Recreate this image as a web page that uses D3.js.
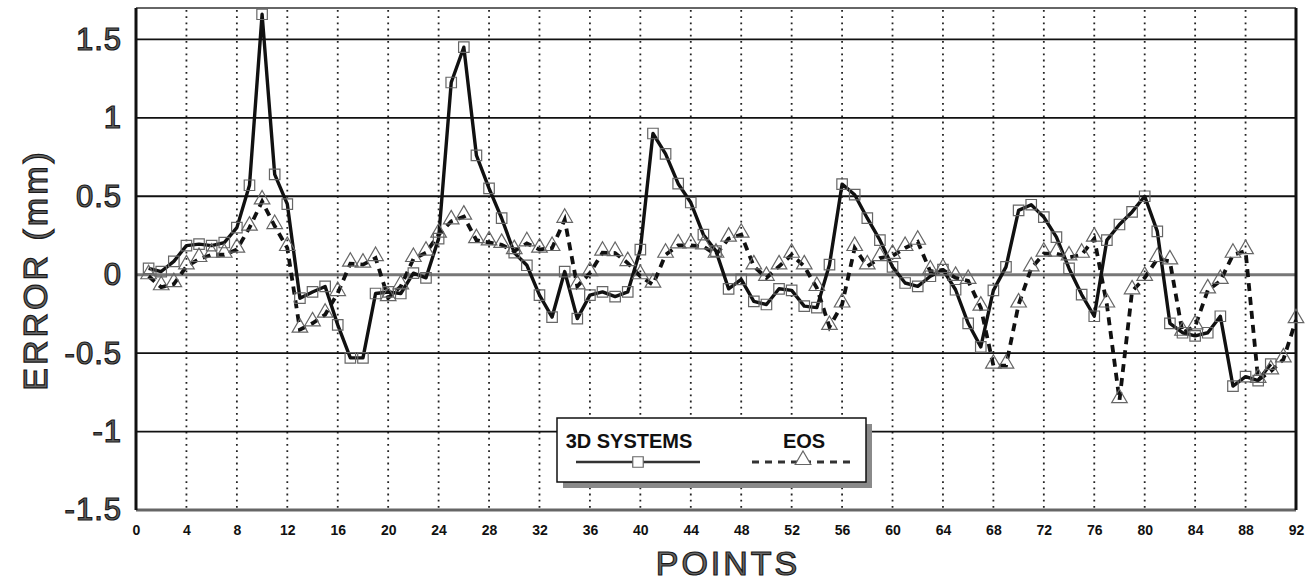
<!DOCTYPE html>
<html>
<head>
<meta charset="utf-8">
<script src="https://cdn.jsdelivr.net/npm/d3@7"></script>
<style>
  body { margin: 0; background: #fff; }
  svg { display: block; }
</style>
</head>
<body>
<div id="chart"></div>
<script>
// error values, point 1..n
const systems3D = [
  0.04, 0.02, 0.085, 0.185, 0.195, 0.185, 0.205, 0.30, 0.57, 1.66,
  0.64, 0.45, -0.15, -0.11, -0.075, -0.32, -0.53, -0.53, -0.12, -0.11,
  -0.12, 0.01, -0.02, 0.23, 1.225, 1.45, 0.76, 0.55, 0.36, 0.14,
  0.06, -0.13, -0.27, 0.02, -0.28, -0.13, -0.11, -0.14, -0.11, 0.16,
  0.90, 0.77, 0.58, 0.46, 0.255, 0.15, -0.09, -0.03, -0.17, -0.19,
  -0.09, -0.10, -0.20, -0.21, 0.064, 0.577, 0.51, 0.36, 0.22, 0.05,
  -0.053, -0.074, -0.01, 0.032, -0.096, -0.31, -0.46, -0.10, 0.05, 0.41,
  0.446, 0.367, 0.24, 0.04, -0.127, -0.265, 0.22, 0.32, 0.40, 0.50,
  0.276, -0.31, -0.37, -0.39, -0.37, -0.265, -0.71, -0.65, -0.675, -0.57
];
const eos = [
  -0.01, -0.08, -0.06, 0.053, 0.10, 0.127, 0.127, 0.16, 0.30, 0.467,
  0.31, 0.17, -0.35, -0.31, -0.255, -0.117, 0.07, 0.064, 0.106, -0.149,
  -0.074, 0.10, 0.14, 0.255, 0.34, 0.37, 0.22, 0.206, 0.19, 0.15,
  0.20, 0.16, 0.17, 0.35, -0.074, 0.01, 0.14, 0.138, 0.074, -0.01,
  -0.064, 0.127, 0.187, 0.187, 0.18, 0.127, 0.23, 0.255, 0.053, -0.02,
  0.053, 0.127, 0.053, -0.085, -0.333, -0.19, 0.17, 0.053, 0.106, 0.12,
  0.17, 0.21, 0.02, 0.03, -0.02, -0.04, -0.21, -0.58, -0.58, -0.19,
  0.04, 0.134, 0.134, 0.11, 0.127, 0.23, -0.19, -0.80, -0.106, -0.02,
  0.10, 0.085, -0.37, -0.33, -0.10, -0.04, 0.127, 0.15, -0.67, -0.616,
  -0.54, -0.29
];
const xTicks = [0, 4, 8, 12, 16, 20, 24, 28, 32, 36, 40, 44, 48, 52, 56, 60, 64, 68, 72, 76, 80, 84, 88, 92];
const yTicks = [-1.5, -1, -0.5, 0, 0.5, 1, 1.5];
const yTickLabels = ["-1.5", "-1", "-0.5", "0", "0.5", "1", "1.5"];
const seriesNames = ["3D SYSTEMS", "EOS"];

const width = 1309, height = 582;
const margin = { top: 8, right: 13, bottom: 72, left: 136 };
const plotW = width - margin.left - margin.right;
const plotH = height - margin.top - margin.bottom;

const svg = d3.select("#chart").append("svg")
  .attr("width", width)
  .attr("height", height);

const g = svg.append("g")
  .attr("transform", `translate(${margin.left},${margin.top})`);

const x = d3.scaleLinear().domain([0, 92]).range([0, plotW]);
const y = d3.scaleLinear().domain([-1.5, 1.7]).range([plotH, 0]);

// dotted vertical grid
g.append("g").selectAll("line")
  .data(xTicks.filter(d => d > 0 && d < 92))
  .enter().append("line")
  .attr("x1", d => x(d)).attr("x2", d => x(d))
  .attr("y1", 2).attr("y2", plotH)
  .attr("stroke", "#222")
  .attr("stroke-width", 1.8)
  .attr("stroke-dasharray", "1.8,4.4");

// horizontal grid
g.append("g").selectAll("line")
  .data(yTicks.filter(d => d > -1.5))
  .enter().append("line")
  .attr("x1", 0).attr("x2", plotW)
  .attr("y1", d => y(d)).attr("y2", d => y(d))
  .attr("stroke", d => d === 0 ? "#777" : "#111")
  .attr("stroke-width", d => d === 0 ? 3 : 1.8);

// frame
g.append("line").attr("x1", 0).attr("x2", plotW).attr("y1", 0).attr("y2", 0)
  .attr("stroke", "#666").attr("stroke-width", 2);
g.append("line").attr("x1", 0).attr("x2", plotW).attr("y1", plotH).attr("y2", plotH)
  .attr("stroke", "#666").attr("stroke-width", 3);
g.append("line").attr("x1", 0).attr("x2", 0).attr("y1", 0).attr("y2", plotH)
  .attr("stroke", "#111").attr("stroke-width", 3);
g.append("line").attr("x1", plotW).attr("x2", plotW).attr("y1", 0).attr("y2", plotH)
  .attr("stroke", "#111").attr("stroke-width", 3);

// axes (labels only)
const xAxis = g.append("g")
  .attr("transform", `translate(0,${plotH})`)
  .call(d3.axisBottom(x).tickValues(xTicks).tickSize(0).tickPadding(15).tickFormat(d3.format("d")));
xAxis.select(".domain").remove();
xAxis.selectAll("text")
  .attr("font-family", "Liberation Sans, Arial, sans-serif")
  .attr("font-size", 14)
  .attr("font-weight", "bold")
  .attr("fill", "#111");

const yAxis = g.append("g")
  .call(d3.axisLeft(y).tickValues(yTicks).tickSize(0).tickPadding(14)
    .tickFormat((d, i) => yTickLabels[i]));
yAxis.select(".domain").remove();
yAxis.selectAll("text")
  .attr("font-family", "Liberation Sans, Arial, sans-serif")
  .attr("font-size", 31)
  .attr("letter-spacing", 1)
  .attr("fill", "#666")
  .attr("stroke", "#1a1a1a")
  .attr("stroke-width", 1.2);

// axis titles
svg.append("text")
  .attr("transform", `translate(47,${margin.top + y(0.03)}) rotate(-90)`)
  .attr("text-anchor", "middle")
  .attr("font-family", "Liberation Sans, Arial, sans-serif")
  .attr("font-size", 34)
  .attr("letter-spacing", 3)
  .attr("fill", "#666")
  .attr("stroke", "#1a1a1a")
  .attr("stroke-width", 1.2)
  .text("ERROR (mm)");

svg.append("text")
  .attr("x", 728)
  .attr("y", 575)
  .attr("text-anchor", "middle")
  .attr("font-family", "Liberation Sans, Arial, sans-serif")
  .attr("font-size", 34)
  .attr("letter-spacing", 3)
  .attr("fill", "#666")
  .attr("stroke", "#1a1a1a")
  .attr("stroke-width", 1.2)
  .text("POINTS");

// series
const line = d3.line().x((d, i) => x(i + 1)).y(d => y(d));

g.append("path")
  .datum(systems3D)
  .attr("d", line)
  .attr("fill", "none")
  .attr("stroke", "#111")
  .attr("stroke-width", 3.4)
  .attr("stroke-linejoin", "round");

g.append("path")
  .datum(eos)
  .attr("d", line)
  .attr("fill", "none")
  .attr("stroke", "#111")
  .attr("stroke-width", 3.8)
  .attr("stroke-dasharray", "8,6");

const square = d3.symbol().type(d3.symbolSquare).size(110);
const triangle = d3.symbol().type(d3.symbolTriangle).size(105);

g.append("g").selectAll("path")
  .data(systems3D)
  .enter().append("path")
  .attr("d", square)
  .attr("transform", (d, i) => `translate(${x(i + 1)},${y(d)})`)
  .attr("fill", "none")
  .attr("stroke", "#666")
  .attr("stroke-width", 1.2);

g.append("g").selectAll("path")
  .data(eos)
  .enter().append("path")
  .attr("d", triangle)
  .attr("transform", (d, i) => `translate(${x(i + 1)},${y(d) - 2})`)
  .attr("fill", "none")
  .attr("stroke", "#666")
  .attr("stroke-width", 1.2);

// legend
const lg = svg.append("g").attr("transform", "translate(557,418)");
lg.append("rect")
  .attr("x", 6).attr("y", 6).attr("width", 309).attr("height", 64)
  .attr("fill", "#8a8a8a");
lg.append("rect")
  .attr("x", 0).attr("y", 0).attr("width", 309).attr("height", 64)
  .attr("fill", "#fff")
  .attr("stroke", "#111")
  .attr("stroke-width", 1.5);

lg.append("text")
  .attr("x", 72).attr("y", 30)
  .attr("text-anchor", "middle")
  .attr("font-family", "Liberation Sans, Arial, sans-serif")
  .attr("font-size", 20)
  .attr("font-weight", "bold")
  .attr("fill", "#111")
  .text(seriesNames[0]);
lg.append("text")
  .attr("x", 247).attr("y", 30)
  .attr("text-anchor", "middle")
  .attr("font-family", "Liberation Sans, Arial, sans-serif")
  .attr("font-size", 20)
  .attr("font-weight", "bold")
  .attr("fill", "#111")
  .text(seriesNames[1]);

lg.append("line")
  .attr("x1", 19).attr("x2", 143).attr("y1", 44).attr("y2", 44)
  .attr("stroke", "#333").attr("stroke-width", 2.5);
lg.append("path")
  .attr("d", square)
  .attr("transform", "translate(81,44)")
  .attr("fill", "#fff").attr("stroke", "#666").attr("stroke-width", 1.2);

lg.append("line")
  .attr("x1", 195).attr("x2", 296).attr("y1", 44).attr("y2", 44)
  .attr("stroke", "#333").attr("stroke-width", 3)
  .attr("stroke-dasharray", "7,6");
lg.append("path")
  .attr("d", triangle)
  .attr("transform", "translate(246,42)")
  .attr("fill", "#fff").attr("stroke", "#666").attr("stroke-width", 1.2);
</script>
</body>
</html>
